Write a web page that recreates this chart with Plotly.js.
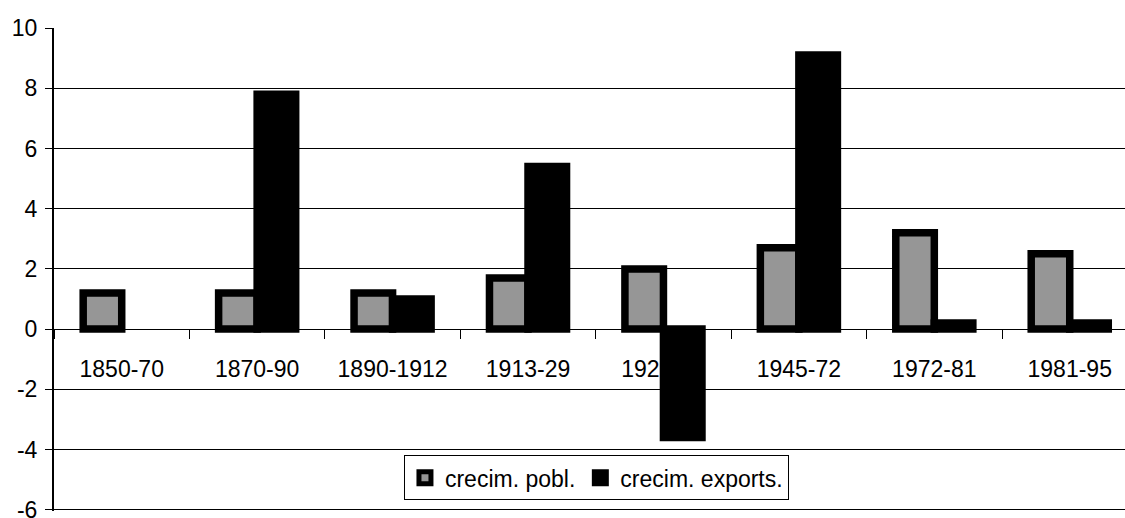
<!DOCTYPE html>
<html>
<head>
<meta charset="utf-8">
<script src="https://cdn.plot.ly/plotly-3.0.1.min.js"></script>
<style>html,body{margin:0;padding:0;background:#fff;}#chart{width:1125px;height:518px;}</style>
</head>
<body>
<div id="chart"></div>
<script>
const categories = ['1850-70', '1870-90', '1890-1912', '1913-29', '1929-45', '1945-72', '1972-81', '1981-95'];
const poblGrowth = [1.2, 1.2, 1.2, 1.7, 2.0, 2.7, 3.2, 2.5];
const exportsGrowth = [null, 7.8, 1.0, 5.4, -3.6, 9.1, 0.2, 0.2];
const seriesNames = ['crecim. pobl.', 'crecim. exports.'];
const yTicks = [-6, -4, -2, 0, 2, 4, 6, 8, 10];

const font = {family: '"Liberation Sans", Arial, sans-serif', size: 23, color: '#000'};
const yMin = -6.04, yMax = 10;

const traces = [
  {type: 'bar', name: seriesNames[0], x: categories, y: poblGrowth,
   marker: {color: '#969696', line: {color: '#000', width: 7.5}}},
  {type: 'bar', name: seriesNames[1], x: categories, y: exportsGrowth,
   marker: {color: '#000', line: {color: '#000', width: 7.5}}}
];

const layout = {
  width: 1125, height: 518,
  margin: {l: 54, r: 0, t: 28, b: 7},
  paper_bgcolor: '#fff', plot_bgcolor: '#fff',
  font: font,
  barmode: 'group', bargap: 0.431, bargroupgap: 0,
  showlegend: true,
  legend: {orientation: 'h', x: 0.5065, xanchor: 'center', y: 0.022, yanchor: 'bottom',
           bgcolor: '#fff', bordercolor: '#000', borderwidth: 1, font: font,
           itemwidth: 30, traceorder: 'normal'},
  xaxis: {type: 'category', range: [-0.5, 7.408], anchor: 'free', position: -yMin / (yMax - yMin),
          showline: true, linecolor: '#000', linewidth: 1, showgrid: false, zeroline: false,
          ticks: 'outside', tickson: 'boundaries', ticklen: 9, tickcolor: '#000', tickwidth: 1,
          ticklabelstandoff: 19, tickfont: font, layer: 'below traces', fixedrange: true},
  yaxis: {range: [yMin, yMax], tickvals: yTicks, ticktext: yTicks.map(String),
          showline: true, linecolor: '#000', linewidth: 2, zeroline: false,
          showgrid: true, gridcolor: '#000', gridwidth: 1,
          ticks: 'outside', ticklen: 7, tickcolor: '#000', tickwidth: 1,
          ticklabelstandoff: 3, ticklabeloverflow: 'allow', tickfont: font, fixedrange: true}
};

Plotly.newPlot('chart', traces, layout, {displayModeBar: false, staticPlot: true});
</script>
</body>
</html>
